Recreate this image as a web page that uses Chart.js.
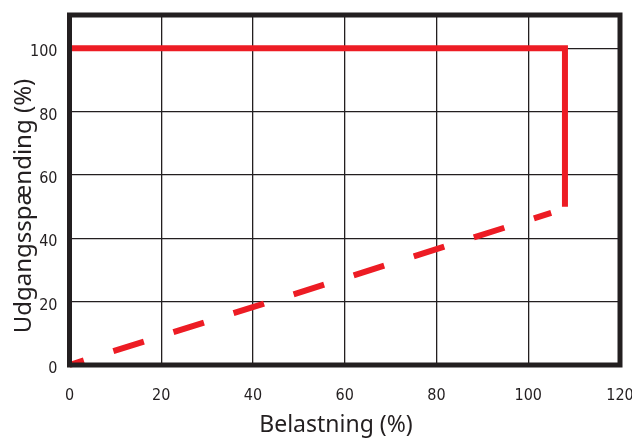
<!DOCTYPE html>
<html>
<head>
<meta charset="utf-8">
<script src="https://cdn.jsdelivr.net/npm/chart.js@4/dist/chart.umd.min.js"></script>
<style>
  html, body { margin: 0; padding: 0; background: #fff; }
  #wrap { width: 632px; height: 439px; }
</style>
</head>
<body>
<div id="wrap"><canvas id="chart"></canvas></div>
<script>
// ===== data =====
const xTicks = [0, 20, 40, 60, 80, 100, 120];
const yTicks = [0, 20, 40, 60, 80, 100];

// constant output until overload, then drop
const limitLoad = [0, 108, 108];
const limitVolt = [100, 100, 50];

// foldback line
const foldLoad = [0, 105];
const foldVolt = [0, 48];

const xTitle = 'Belastning (%)';
const yTitle = 'Udgangsspænding (%)';

// ===== style =====
const ink = '#231f20';
const red = '#ed1c24';
const tickFont = { family: "'Liberation Sans Narrow', 'DejaVu Sans Condensed', sans-serif", size: 16 };
const titleFamily = "'Noto Sans', 'Open Sans', sans-serif";

const pts = (xs, ys) => xs.map((x, i) => ({ x, y: ys[i] }));

// ===== plugins =====
const frame = {
    id: 'frame',
    afterDatasetsDraw(chart) {
        const { ctx, chartArea: a } = chart;
        ctx.save();
        ctx.lineWidth = 5;
        ctx.strokeStyle = ink;
        ctx.strokeRect(a.left, a.top, a.right - a.left, a.bottom - a.top);
        ctx.restore();
    }
};

const axisTitles = {
    id: 'axisTitles',
    afterDraw(chart) {
        const ctx = chart.ctx;
        ctx.save();
        ctx.fillStyle = ink;
        ctx.textAlign = 'center';
        ctx.textBaseline = 'alphabetic';
        ctx.font = '23px ' + titleFamily;
        ctx.fillText(xTitle, 336, 432);
        ctx.font = '24px ' + titleFamily;
        ctx.translate(31, 206);
        ctx.rotate(-Math.PI / 2);
        ctx.fillText(yTitle, 0, 0);
        ctx.restore();
    }
};

// ===== chart =====
new Chart(document.getElementById('chart'), {
    type: 'scatter',
    data: {
        datasets: [
            {
                data: pts(limitLoad, limitVolt),
                showLine: true,
                borderColor: red,
                borderWidth: 6,
                borderJoinStyle: 'miter',
                borderCapStyle: 'butt',
                pointRadius: 0,
                clip: 10
            },
            {
                data: pts(foldLoad, foldVolt),
                showLine: true,
                borderColor: red,
                borderWidth: 6,
                borderDash: [32, 31],
                borderDashOffset: 17,
                borderCapStyle: 'butt',
                pointRadius: 0,
                clip: 10
            }
        ]
    },
    options: {
        responsive: true,
        maintainAspectRatio: false,
        animation: false,
        layout: { padding: { left: 0, top: 15, right: 12, bottom: 0 } },
        plugins: {
            legend: { display: false },
            tooltip: { enabled: false }
        },
        scales: {
            x: {
                type: 'linear',
                min: 0,
                max: 120,
                afterBuildTicks: s => { s.ticks = xTicks.map(v => ({ value: v })); },
                afterFit: s => { s.height = 74; s.paddingLeft = 0; s.paddingRight = 0; },
                grid: { color: ink, lineWidth: 1.3, drawTicks: false },
                border: { display: false },
                ticks: { color: ink, font: tickFont, padding: 21, maxRotation: 0 }
            },
            y: {
                type: 'linear',
                min: 0,
                max: 110.5,
                afterBuildTicks: s => { s.ticks = yTicks.map(v => ({ value: v })); },
                afterFit: s => { s.width = 69.5; s.paddingTop = 0; s.paddingBottom = 0; },
                grid: { color: ink, lineWidth: 1.3, drawTicks: false },
                border: { display: false },
                ticks: { color: ink, font: tickFont, padding: 12, labelOffset: 4 }
            }
        }
    },
    plugins: [frame, axisTitles]
});
</script>
</body>
</html>
